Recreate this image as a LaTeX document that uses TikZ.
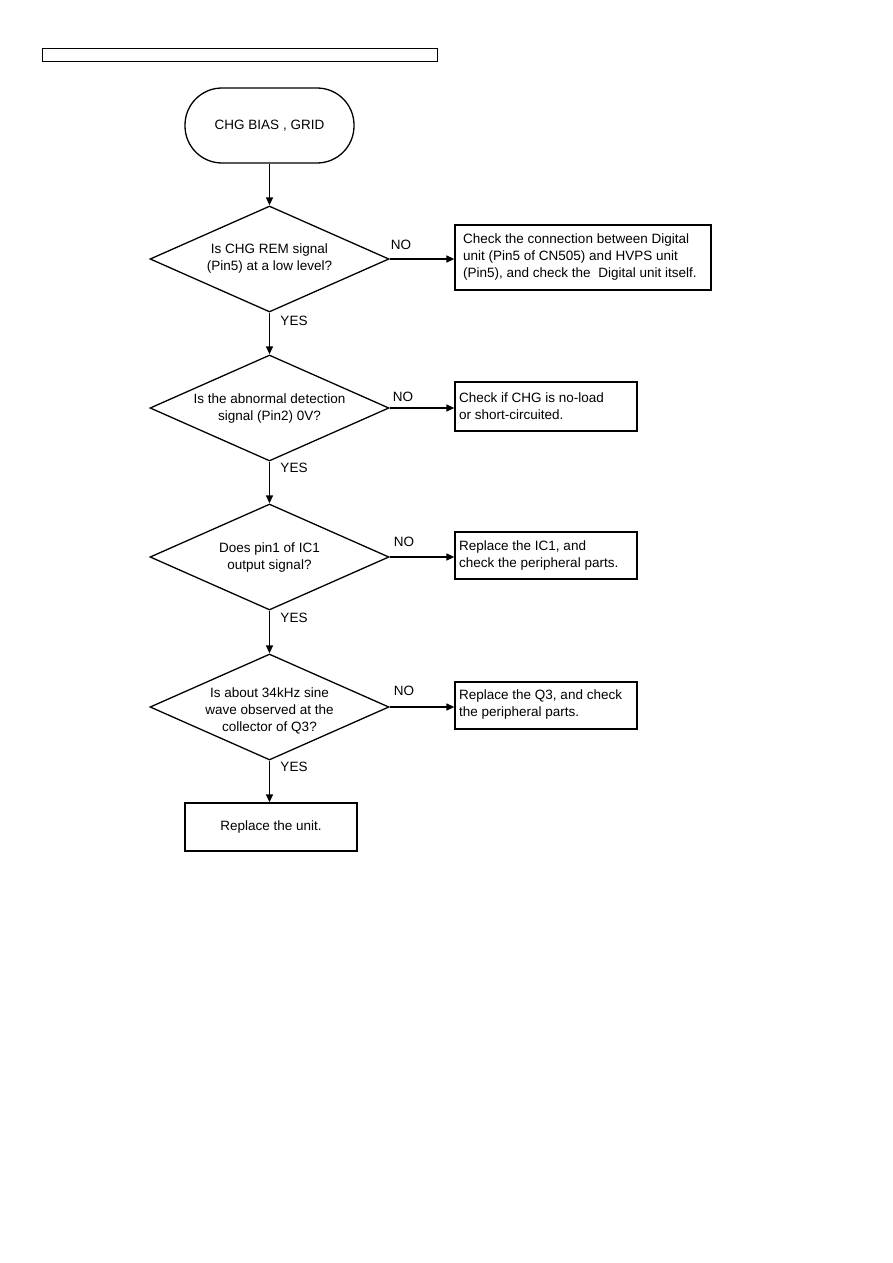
\documentclass[tikz,border=0pt]{standalone}
\usepackage{fontspec}
\setmainfont{Liberation Sans}
\usetikzlibrary{shapes.geometric,arrows.meta}
\begin{document}
\begin{tikzpicture}[x=1pt,y=-1pt,
  every node/.style={font=\fontsize{13.5}{17}\selectfont},
  arr/.style={line width=1.3pt,-{Triangle[length=8pt,width=7pt]}},
  dec/.style={diamond,draw,line width=1.3pt,minimum width=239pt,minimum height=106pt,inner sep=0pt},
  dtext/.style={align=center,inner sep=0pt},
  actbox/.style={draw,line width=1.3pt,inner sep=0pt},
  lbl/.style={inner sep=0pt,font=\fontsize{13.5}{15}\selectfont}]
\useasboundingbox (0,0) rectangle (893,1263);
\node[draw,line width=1.3pt,minimum width=395pt,minimum height=13pt,inner sep=0pt,anchor=north west] (bar) at (42,48) {};
\node[draw,line width=1.3pt,rounded corners=37pt,minimum width=169pt,minimum height=75pt,inner sep=0pt] (start) at (269.5,125.5) {CHG BIAS , GRID};
\node[dec] (d1) at (269.5,259) {};
\node[dtext] (d1t) at (269.5,259) {Is CHG REM signal\\(Pin5) at a low level?};
\node[dec] (d2) at (269.5,408) {};
\node[dtext] (d2t) at (269.5,409) {Is the abnormal detection\\signal (Pin2) 0V?};
\node[dec] (d3) at (269.5,557) {};
\node[dtext] (d3t) at (269.5,558) {Does pin1 of IC1\\output signal?};
\node[dec] (d4) at (269.5,707) {};
\node[dtext] (d4t) at (269.5,711) {Is about 34kHz sine\\wave observed at the\\collector of Q3?};
\node[actbox,minimum width=172pt,minimum height=48pt] (fin) at (271,827) {Replace the unit.};
\node[actbox,minimum width=256pt,minimum height=65pt] (b1) at (583,257.5) {};
\node[anchor=west,align=left,inner sep=0pt] (t1) at (463,257) {Check the connection between Digital\\unit (Pin5 of CN505) and HVPS unit\\(Pin5), and check the\ \ Digital unit itself.};
\node[actbox,minimum width=182pt,minimum height=49pt] (b2) at (546,406.5) {};
\node[anchor=west,align=left,inner sep=0pt] (t2) at (459,406) {Check if CHG is no-load\\or short-circuited.};
\node[actbox,minimum width=182pt,minimum height=47pt] (b3) at (546,555.5) {};
\node[anchor=west,align=left,inner sep=0pt] (t3) at (459,556) {Replace the IC1, and\\check the peripheral parts.};
\node[actbox,minimum width=182pt,minimum height=47pt] (b4) at (546,705.5) {};
\node[anchor=west,align=left,inner sep=0pt] (t4) at (459,705) {Replace the Q3, and check\\the peripheral parts.};
\draw[arr] (start.south) -- (d1.north);
\draw[arr] (d1.south) -- (d2.north);
\draw[arr] (d2.south) -- (d3.north);
\draw[arr] (d3.south) -- (d4.north);
\draw[arr] (d4.south) -- (d4.south |- fin.north);
\draw[arr] (d1.east) -- (d1.east -| b1.west);
\draw[arr] (d2.east) -- (d2.east -| b2.west);
\draw[arr] (d3.east) -- (d3.east -| b3.west);
\draw[arr] (d4.east) -- (d4.east -| b4.west);
\node[lbl] (n1) at (401,245) {NO};
\node[lbl] (n2) at (403,397) {NO};
\node[lbl] (n3) at (404,542) {NO};
\node[lbl] (n4) at (404,691) {NO};
\node[lbl] (y1) at (294,321) {YES};
\node[lbl] (y2) at (294,468) {YES};
\node[lbl] (y3) at (294,618) {YES};
\node[lbl] (y4) at (294,767) {YES};
\end{tikzpicture}
\end{document}
